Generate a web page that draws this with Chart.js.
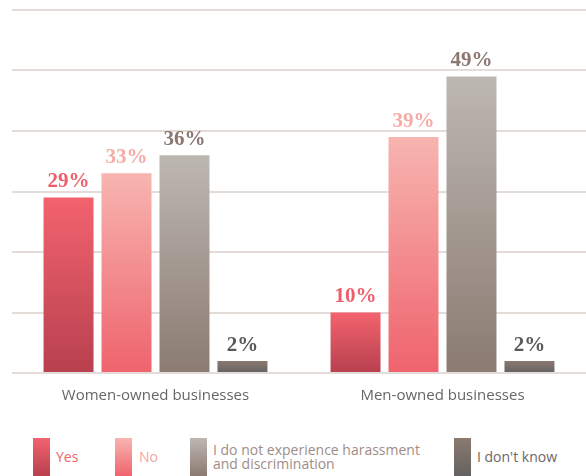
<!DOCTYPE html>
<html>
<head>
<meta charset="utf-8">
<script src="https://cdn.jsdelivr.net/npm/chart.js@4"></script>
<style>
  html, body { margin: 0; padding: 0; background: #fff; }
  #wrap { position: relative; width: 586px; height: 476px; overflow: hidden; }
  #chartBox { position: absolute; left: 0; top: 0; width: 586px; height: 434px; }
  .lg-sw { position: absolute; top: 438px; width: 17px; height: 38px; }
  .lg-tx { position: absolute; font-family: "Open Sans", sans-serif; font-size: 14px; line-height: 14px; white-space: nowrap; }
</style>
</head>
<body>
<div id="wrap">
  <div id="chartBox"><canvas id="grafico"></canvas></div>
  <div id="legend"></div>
</div>
<script>
  const categorias = ["Women-owned businesses", "Men-owned businesses"];
  const series = ["Yes", "No", "I do not experience harassment and discrimination", "I don't know"];
  const valoresSi = [29, 10];
  const valoresNo = [33, 39];
  const valoresNoExperimenta = [36, 49];
  const valoresNoSabe = [2, 2];
  const escalaY = [0, 10, 20, 30, 40, 50, 60];

  // colores: arriba / abajo del degradado, color de etiqueta
  const degradados = [
    ["#f2636e", "#b8404f"],
    ["#f7b5b0", "#ef636d"],
    ["#bdb7b2", "#8b7b71"],
    ["#8b7a70", "#646262"]
  ];
  const coloresEtiqueta = ["#ef5f6b", "#f6aba7", "#8b7770", "#5c5757"];
  const coloresLeyenda = ["#f0636e", "#f6a5a1", "#9d8d87", "#6b6767"];

  function relleno(i) {
    return function (ctx) {
      const chart = ctx.chart;
      if (!chart.chartArea || ctx.type !== "data") return degradados[i][0];
      const y = chart.scales.y;
      const top = y.getPixelForValue(ctx.raw);
      const bot = y.getPixelForValue(0);
      const g = chart.ctx.createLinearGradient(0, top, 0, bot);
      g.addColorStop(0, degradados[i][0]);
      g.addColorStop(1, degradados[i][1]);
      return g;
    };
  }

  const etiquetas = {
    id: "etiquetas",
    afterDatasetsDraw(chart) {
      const c = chart.ctx;
      c.save();
      c.font = "bold 21px 'Liberation Serif', serif";
      c.textAlign = "center";
      c.textBaseline = "bottom";
      chart.data.datasets.forEach((ds, i) => {
        const meta = chart.getDatasetMeta(i);
        meta.data.forEach((bar, j) => {
          c.fillStyle = coloresEtiqueta[i];
          c.fillText(ds.data[j] + "%", bar.x, bar.y - 5);
        });
      });
      c.restore();
    }
  };

  const valores = [valoresSi, valoresNo, valoresNoExperimenta, valoresNoSabe];

  new Chart(document.getElementById("grafico"), {
    type: "bar",
    data: {
      labels: categorias,
      datasets: series.map((s, i) => ({
        label: s,
        data: valores[i],
        backgroundColor: relleno(i),
        borderWidth: 0,
        categoryPercentage: 0.808,
        barPercentage: 0.862
      }))
    },
    options: {
      responsive: true,
      maintainAspectRatio: false,
      animation: false,
      layout: { padding: { left: 12, right: 0, top: 10, bottom: 15 } },
      plugins: {
        legend: { display: false },
        tooltip: { enabled: false }
      },
      scales: {
        x: {
          grid: { display: false, drawTicks: false },
          border: { display: false },
          ticks: {
            color: "#666",
            padding: 14,
            font: { family: "'Open Sans', sans-serif", size: 15 }
          }
        },
        y: {
          min: escalaY[0],
          max: escalaY[escalaY.length - 1],
          afterBuildTicks: (axis) => { axis.ticks = escalaY.map(v => ({ value: v })); },
          grid: { color: "#e4dcd9", lineWidth: 2, drawTicks: false },
          border: { display: false },
          ticks: { display: false }
        }
      }
    },
    plugins: [etiquetas]
  });

  // leyenda
  const posSw = [33, 115, 190, 454];
  const posTx = [56, 139, 213, 477];
  const textos = [["Yes"], ["No"], ["I do not experience harassment", "and discrimination"], ["I don't know"]];
  const lg = document.getElementById("legend");
  series.forEach((s, i) => {
    const sw = document.createElement("div");
    sw.className = "lg-sw";
    sw.style.left = posSw[i] + "px";
    sw.style.background = "linear-gradient(" + degradados[i][0] + "," + degradados[i][1] + ")";
    lg.appendChild(sw);
    const tx = document.createElement("div");
    tx.className = "lg-tx";
    tx.style.left = posTx[i] + "px";
    tx.style.color = coloresLeyenda[i];
    tx.style.top = (textos[i].length > 1 ? 443 : 450) + "px";
    tx.innerHTML = textos[i].join("<br>");
    lg.appendChild(tx);
  });
</script>
</body>
</html>
